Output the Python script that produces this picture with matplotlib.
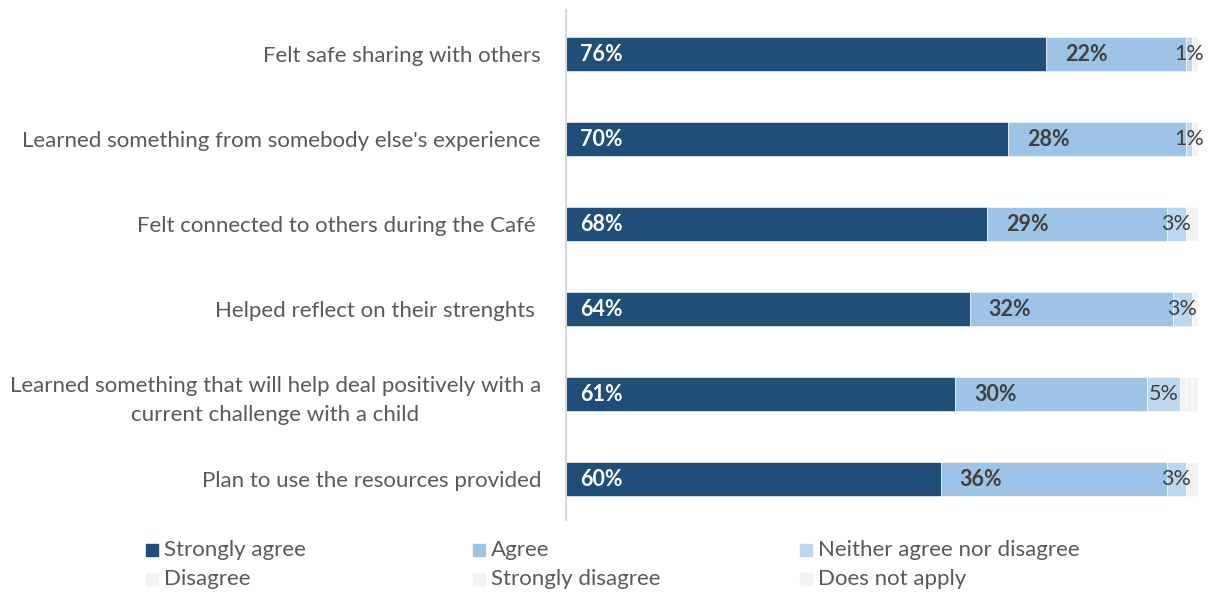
import matplotlib
matplotlib.use("Agg")
import matplotlib.pyplot as plt
from matplotlib.patches import Rectangle

categories = [
    "Felt safe sharing with others",
    "Learned something from somebody else's experience",
    "Felt connected to others during the Café ",
    "Helped reflect on their strenghts ",
    "Learned something that will help deal positively with a\ncurrent challenge with a child",
    "Plan to use the resources provided",
]
series_names = ["Strongly agree", "Agree", "Neither agree nor disagree",
                "Disagree", "Strongly disagree", "Does not apply"]
strongly_agree = [75.9, 69.9, 66.6, 63.9, 61.6, 59.3]
agree = [22.2, 28.2, 28.5, 32.1, 30.4, 35.8]
neither = [0.9, 0.9, 3.0, 3.0, 5.1, 3.0]
disagree = [1.0, 1.0, 1.9, 1.0, 1.0, 1.9]
strongly_disagree = [0.0, 0.0, 0.0, 0.0, 1.0, 0.0]
does_not_apply = [0.0, 0.0, 0.0, 0.0, 0.9, 0.0]
sa_labels = ["76%", "70%", "68%", "64%", "61%", "60%"]
agree_labels = ["22%", "28%", "29%", "32%", "30%", "36%"]
neither_labels = ["1%", "1%", "3%", "3%", "5%", "3%"]

colors = ["#1f4e79", "#9dc3e6", "#bdd7ee", "#f2f2f2", "#f2f2f2", "#f2f2f2"]
FONT = "Lato"
plt.rcParams["font.family"] = [FONT, "DejaVu Sans"]

W, H = 1210, 592
fig = plt.figure(figsize=(W / 100, H / 100), dpi=100)
ax = fig.add_axes([566 / W, 1 - 520 / H, (1198 - 566) / W, 510 / H])

series = [strongly_agree, agree, neither, disagree, strongly_disagree, does_not_apply]
y = list(range(len(categories)))
left = [0.0] * len(categories)
for vals, c in zip(series, colors):
    ax.barh(y, vals, left=left, height=0.4, color=c, edgecolor="white", linewidth=0.4)
    left = [l + v for l, v in zip(left, vals)]

ax.set_xlim(0, 100)
ax.set_ylim(5.48, -0.518)
ax.set_xticks([])
ax.set_yticks(y)
ax.set_yticklabels(categories, fontsize=16, color="#595959",
                   multialignment="center", linespacing=1.55)
ax.tick_params(axis="y", length=0, pad=18)
for s in ["top", "right", "bottom"]:
    ax.spines[s].set_visible(False)
ax.spines["left"].set_color("#d9d9d9")
ax.spines["left"].set_linewidth(1.5)

for i in y:
    ax.text(2.2, i, sa_labels[i], color="white", fontsize=15.5, fontweight="bold",
            va="center", ha="left")
    ax.text(strongly_agree[i] + 3.0, i, agree_labels[i], color="#404040", fontsize=15.5,
            fontweight="bold", va="center", ha="left")
    ax.text(strongly_agree[i] + agree[i] + neither[i] / 2, i, neither_labels[i],
            color="#404040", fontsize=15.5, va="center", ha="center")

# legend
leg_x = [146, 473, 800]
leg_y = [550, 579]
for k, name in enumerate(series_names):
    r, cidx = divmod(k, 3)
    x0, y0 = leg_x[cidx], leg_y[r]
    fig.patches.append(Rectangle((x0 / W, 1 - (y0 + 6) / H), 12 / W, 12 / H,
                                 transform=fig.transFigure, color=colors[k]))
    fig.text((x0 + 18) / W, 1 - y0 / H, name, fontsize=16, color="#595959",
             va="center", ha="left")

fig.savefig("out.png", dpi=100)
